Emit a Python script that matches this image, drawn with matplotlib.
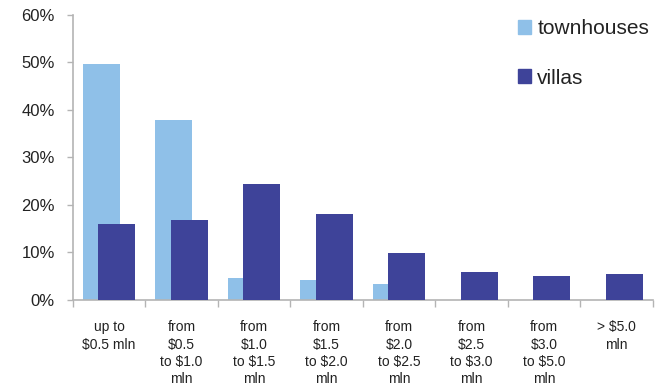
import numpy as np
import matplotlib.pyplot as plt
from matplotlib.patches import Patch
from matplotlib.ticker import FuncFormatter

plt.rcParams['font.family'] = ['Liberation Sans', 'DejaVu Sans']

# Share of sales by price band, %
categories = ['up to\n$0.5 mln', 'from\n$0.5\nto $1.0\nmln', 'from\n$1.0\nto $1.5\nmln',
              'from\n$1.5\nto $2.0\nmln', 'from\n$2.0\nto $2.5\nmln', 'from\n$2.5\nto $3.0\nmln',
              'from\n$3.0\nto $5.0\nmln', '> $5.0\nmln']
townhouses = [49.7, 37.9, 4.5, 4.1, 3.3, 0.0, 0.0, 0.0]
villas = [15.9, 16.8, 24.4, 18.1, 9.8, 5.8, 5.0, 5.4]

c_town = '#8fc0e8'
c_villa = '#3e4399'
grey = '#b4b4b4'
txt = '#222222'

fig = plt.figure(figsize=(6.62, 3.9), dpi=100)
ax = fig.add_axes([0.110, 0.232, 0.876, 0.7295])

x = np.arange(len(categories))
w = 0.51
ax.bar(x - 0.105, townhouses, w, color=c_town, zorder=2)
ax.bar(x + 0.105, villas, w, color=c_villa, zorder=3)

ax.set_xlim(-0.5, len(categories) - 0.5)
ax.set_ylim(0, 60)
ax.set_yticks(range(0, 61, 10))
ax.yaxis.set_major_formatter(FuncFormatter(lambda v, p: '%d%%' % v))

ax.set_xticks(x)
ax.set_xticklabels(categories, linespacing=1.3)
ax.set_xticks(np.arange(-0.5, len(categories), 1.0), minor=True)

for s in ['top', 'right']:
    ax.spines[s].set_visible(False)
for s in ['left', 'bottom']:
    ax.spines[s].set_color(grey)
    ax.spines[s].set_linewidth(1.2)

ax.tick_params(axis='y', length=4, width=1, color=grey, pad=9, labelsize=12, labelcolor=txt)
ax.tick_params(axis='x', which='major', length=0, pad=15, labelsize=10, labelcolor=txt)
ax.tick_params(axis='x', which='minor', length=5, width=1, color=grey)

handles = [Patch(color=c_town, label='townhouses'), Patch(color=c_villa, label='villas')]
fig.legend(handles=handles, loc='upper left', bbox_to_anchor=(0.766, 0.977),
           frameon=False, fontsize=15, handlelength=0.65, handleheight=0.65,
           handletextpad=0.3, labelspacing=1.45, borderpad=0, labelcolor=txt)

fig.savefig('out.png', dpi=100)
